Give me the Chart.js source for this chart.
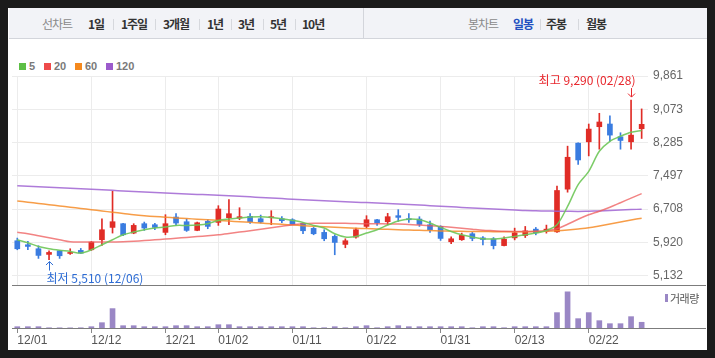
<!DOCTYPE html>
<html><head><meta charset="utf-8">
<script src="https://cdn.jsdelivr.net/npm/chart.js@4.4.1/dist/chart.umd.min.js"></script>
<style>
html,body{margin:0;padding:0;}
body{width:715px;height:358px;background:#1b1b1b;position:relative;overflow:hidden;font-family:"Liberation Sans",Arial,sans-serif;}
#panel{position:absolute;left:8px;top:8px;width:699px;height:342px;background:#fff;}
#hdr{position:absolute;left:9px;top:8px;width:698px;height:30px;background:#f2f3f7;border-bottom:1px solid #d3d5db;}
#hdiv{position:absolute;left:363px;top:8px;width:1px;height:31px;background:#d3d5db;}
.h{position:absolute;top:16px;font-family:"Noto Sans CJK KR",sans-serif;font-size:12px;line-height:16px;letter-spacing:-1px;color:#333;font-weight:700;white-space:nowrap;}
.h.g{color:#8a8a8a;font-weight:400;}
.h.b{color:#2350c0;}
.sep{position:absolute;top:19px;width:1px;height:11px;background:#d6d8dd;}
.lg{position:absolute;top:63px;width:7px;height:7px;}
.lt{position:absolute;top:60px;font-size:11px;line-height:13px;font-weight:700;color:#7a7a7a;}
.line{position:absolute;left:12px;width:694px;height:1px;background:#7c7c7c;}
canvas{position:absolute;left:0;}
#vl{position:absolute;left:665px;top:294px;width:3px;height:8px;background:#9a87c5;}
#vt{position:absolute;left:670px;top:290px;font-family:"Noto Sans CJK KR",sans-serif;font-size:11px;line-height:16px;letter-spacing:-0.5px;color:#555;}
</style>
</head>
<body>
<div id="panel"></div>
<div id="hdr"></div>
<div id="hdiv"></div>
<span class="h g" style="left:42px">선차트</span>
<span class="h" style="left:88px">1일</span><div class="sep" style="left:113px"></div>
<span class="h" style="left:121px">1주일</span><div class="sep" style="left:155px"></div>
<span class="h" style="left:163px">3개월</span><div class="sep" style="left:199px"></div>
<span class="h" style="left:207px">1년</span><div class="sep" style="left:231px"></div>
<span class="h" style="left:238px">3년</span><div class="sep" style="left:263px"></div>
<span class="h" style="left:270px">5년</span><div class="sep" style="left:295px"></div>
<span class="h" style="left:302px">10년</span>
<span class="h g" style="left:468px">봉차트</span>
<span class="h b" style="left:513px">일봉</span><div class="sep" style="left:540px"></div>
<span class="h" style="left:546px">주봉</span><div class="sep" style="left:578px"></div>
<span class="h" style="left:586px">월봉</span>

<div class="lg" style="left:19px;background:#5dbf45"></div><span class="lt" style="left:29px">5</span>
<div class="lg" style="left:44px;background:#ee4a4a"></div><span class="lt" style="left:54px">20</span>
<div class="lg" style="left:75px;background:#f5891d"></div><span class="lt" style="left:85px">60</span>
<div class="lg" style="left:106px;background:#9c5bcc"></div><span class="lt" style="left:116px">120</span>

<canvas id="price" width="715" height="286" style="top:0"></canvas>
<canvas id="vol" width="715" height="72" style="top:286px"></canvas>
<div class="line" style="top:285px"></div>
<div class="line" style="top:328px"></div>
<div id="vl"></div><span id="vt">거래량</span>

<script>
const dates = ['12/01','12/04','12/05','12/06','12/07','12/08','12/11','12/12','12/13','12/14',
 '12/15','12/18','12/19','12/20','12/21','12/22','12/26','12/27','12/28','01/02',
 '01/03','01/04','01/05','01/08','01/09','01/10','01/11','01/12','01/15','01/16',
 '01/17','01/18','01/19','01/22','01/23','01/24','01/25','01/26','01/29','01/30',
 '01/31','02/01','02/02','02/05','02/06','02/07','02/08','02/13','02/14','02/15',
 '02/16','02/19','02/20','02/21','02/22','02/23','02/26','02/27','02/28','02/29'];
const opens = [5956,5861,5766,5632,5719,5655,5727,5742,5980,6272, 6360,6138,6360,6336,6154,6518,6407,6201,6415,6391,
 6502,6494,6534,6478,6502,6478,6454,6368,6249,6154, 6059,5869,6043,6296,6454,6407,6550,6470,6470,6336,
 6296,5932,5980,6122,6024,6001,5841,6024,6080,6231, 6183,6167,7179,8269,8301,8659,8723,8420,8301,8611];
const highs = [6019,5940,5837,5719,5727,5766,5774,5940,6478,7127, 6368,6360,6399,6368,6573,6597,6470,6399,6454,6787,
 6929,6739,6597,6565,6668,6526,6478,6376,6272,6217, 6098,6003,6257,6550,6462,6605,6692,6597,6526,6423,
 6312,6051,6138,6154,6056,6032,6048,6255,6295,6271, 6327,7250,8198,8277,8723,8977,8914,8516,9290,9081];
const lows = [5742,5742,5537,5510,5537,5632,5655,5727,5845,6138, 6075,6122,6201,6217,6098,6320,6177,6193,6241,6320,
 6336,6454,6368,6375,6336,6383,6336,6122,6098,5956, 5624,5790,6019,6265,6320,6336,6415,6391,6296,6154,
 5964,5885,5964,5956,5857,5762,5833,5977,6032,6096, 6136,6152,7107,7767,7967,8126,8317,8126,8126,8380];
const closes = [5766,5821,5608,5679,5600,5679,5663,5924,6217,6407, 6098,6320,6257,6272,6360,6375,6201,6383,6296,6708,
 6597,6526,6407,6399,6526,6431,6344,6193,6122,6003, 5916,5956,6217,6454,6383,6526,6510,6454,6344,6217,
 6011,6003,6083,6011,5985,5841,5993,6144,6191,6144, 6231,7147,7935,7871,8603,8771,8460,8333,8460,8715];
const volumes = [65000,65000,65000,12000,10000,8000,12000,65000,265000,965000, 115000,115000,65000,65000,65000,115000,115000,65000,65000,165000,
 165000,65000,65000,65000,65000,65000,65000,65000,12000,14000, 65000,13000,65000,115000,14000,65000,115000,65000,65000,65000,
 65000,65000,65000,12000,65000,65000,13000,65000,65000,65000, 65000,765000,1800000,465000,765000,365000,215000,215000,565000,285000];
const ma5 = [5980,5908,5820,5766,5730,5702,5664,5742,5861,5980, 6098,6162,6217,6257,6281,6319,6319,6329,6359,6438,
 6471,6495,6518,6526,6509,6478,6438,6390,6319,6257, 6122,6044,6058,6139,6217,6329,6423,6471,6454,6376,
 6272,6177,6098,6044,6003,5996,6020,6058,6098,6139, 6200,6336,6770,7285,7601,8076,8313,8432,8527,8567];
const ma20 = [6158,6122,6074,6027,5980,5932,5925,5925,5925,5927, 5932,5944,5961,5980,5996,6015,6034,6055,6074,6098,
 6129,6162,6193,6229,6264,6300,6336,6359,6371,6373, 6371,6369,6364,6359,6359,6355,6352,6340,6329,6312,
 6295,6276,6253,6229,6205,6193,6181,6177,6177,6181, 6193,6241,6347,6466,6573,6656,6751,6858,6965,7072];
const ma60 = [6898,6870,6839,6810,6780,6751,6720,6692,6661,6632, 6604,6573,6549,6530,6514,6497,6483,6466,6454,6438,
 6423,6407,6393,6376,6359,6345,6329,6314,6300,6288, 6276,6264,6253,6245,6236,6226,6217,6210,6203,6196,
 6188,6184,6179,6177,6174,6172,6170,6170,6170,6174, 6181,6193,6212,6236,6264,6307,6355,6400,6447,6490];
const ma120 = [7261,7249,7237,7224,7212,7200,7188,7175,7163,7150, 7138,7126,7113,7101,7088,7076,7066,7055,7045,7034,
 7024,7010,6996,6983,6969,6955,6942,6930,6917,6904, 6891,6881,6870,6860,6849,6839,6826,6813,6801,6788,
 6775,6761,6746,6732,6720,6708,6696,6685,6673,6667, 6661,6658,6654,6651,6657,6663,6674,6685,6695,6704];
const yTickValues = [5132,5920,6708,7497,8285,9073,9861];
const xTickLabels = ['12/01','12/12','12/21','01/02','01/11','01/22','01/31','02/13','02/22'];

const UP = '#e02c26', DOWN = '#3a7ce0';
const X_MIN = -0.5, X_MAX = 59.6, Y_MIN = 4907, Y_MAX = 9861, VOL_MAX = 2040000;
const xTickIdx = xTickLabels.map(l => dates.indexOf(l));
const candleColors = closes.map((c, i) => c >= opens[i] ? UP : DOWN);
const pts = arr => arr.map((v, i) => ({x: i, y: v}));
const fmt = v => Math.round(v).toLocaleString('en-US');
const GRID = '#ececec';

const hiLo = {
  id: 'hilo',
  afterDatasetsDraw(chart) {
    const {ctx} = chart, x = chart.scales.x, y = chart.scales.y;
    const hi = Math.max(...highs), hiI = highs.indexOf(hi);
    const lo = Math.min(...lows), loI = lows.indexOf(lo);
    ctx.save();
    ctx.lineWidth = 1;
    ctx.font = '12px "Noto Sans CJK KR", sans-serif';
    ctx.textBaseline = 'middle';
    let px = Math.round(x.getPixelForValue(hiI)) + 0.5, py = y.getPixelForValue(hi);
    ctx.strokeStyle = ctx.fillStyle = '#e8262c';
    ctx.beginPath();
    ctx.moveTo(px, py - 12); ctx.lineTo(px, py - 3);
    ctx.moveTo(px - 3.5, py - 6.5); ctx.lineTo(px, py - 3); ctx.lineTo(px + 3.5, py - 6.5);
    ctx.stroke();
    ctx.textAlign = 'right';
    ctx.fillText('최고 ' + fmt(hi) + ' (' + dates[hiI] + ')', px + 4, py - 19.5);
    px = Math.round(x.getPixelForValue(loI)) + 0.5; py = y.getPixelForValue(lo);
    ctx.strokeStyle = ctx.fillStyle = '#2d6cd4';
    ctx.beginPath();
    ctx.moveTo(px, py + 11); ctx.lineTo(px, py + 2);
    ctx.moveTo(px - 3.5, py + 5.5); ctx.lineTo(px, py + 2); ctx.lineTo(px + 3.5, py + 5.5);
    ctx.stroke();
    ctx.textAlign = 'left';
    ctx.fillText('최저 ' + fmt(lo) + ' (' + dates[loI] + ')', px - 3, py + 18.5);
    ctx.restore();
  }
};

const lineDs = (arr, color, order) => ({type: 'line', data: pts(arr), borderColor: color, borderWidth: 1.5,
  pointRadius: 0, tension: 0.3, order: order});

new Chart(document.getElementById('price'), {
  type: 'bar',
  data: {datasets: [
    lineDs(ma5, 'rgba(110,198,88,0.9)', 0),
    lineDs(ma20, 'rgba(238,90,90,0.75)', 0),
    lineDs(ma60, 'rgba(246,140,40,0.85)', 0),
    lineDs(ma120, 'rgba(160,100,210,0.85)', 0),
    {type: 'bar', data: opens.map((o, i) => ({x: i, y: [o, closes[i]]})), backgroundColor: candleColors,
      barThickness: 5, grouped: false, minBarLength: 1, order: 1},
    {type: 'bar', data: lows.map((l, i) => ({x: i, y: [l, highs[i]]})), backgroundColor: candleColors,
      barThickness: 1, grouped: false, order: 2}
  ]},
  options: {
    responsive: false, animation: false, devicePixelRatio: 1,
    layout: {padding: {left: 12, top: 76, right: 0, bottom: 1}, autoPadding: false},
    plugins: {legend: {display: false}, tooltip: {enabled: false}},
    scales: {
      x: {type: 'linear', min: X_MIN, max: X_MAX, offset: false,
        afterBuildTicks: s => { s.ticks = xTickIdx.map(v => ({value: v})); },
        afterFit: s => { s.height = 0; s.paddingLeft = 0; s.paddingRight = 0; },
        ticks: {display: false}, grid: {color: GRID, drawTicks: false, offset: false}, border: {display: false}},
      y: {position: 'right', min: Y_MIN, max: Y_MAX,
        afterBuildTicks: s => { s.ticks = yTickValues.map(v => ({value: v})); },
        afterFit: s => { s.width = 67; s.paddingTop = 0; s.paddingBottom = 0; },
        ticks: {padding: 5, color: '#666', font: {family: 'Liberation Sans', size: 12}, callback: v => fmt(v)},
        grid: {color: GRID, drawTicks: false}, border: {display: false}}
    }
  },
  plugins: [hiLo]
});

new Chart(document.getElementById('vol'), {
  type: 'bar',
  data: {datasets: [{data: pts(volumes), backgroundColor: '#9a87c5', barThickness: 5, grouped: false}]},
  options: {
    responsive: false, animation: false, devicePixelRatio: 1,
    layout: {padding: {left: 12, top: 1, right: 67, bottom: 0}, autoPadding: false},
    plugins: {legend: {display: false}, tooltip: {enabled: false}},
    scales: {
      x: {type: 'linear', min: X_MIN, max: X_MAX, offset: false,
        afterBuildTicks: s => { s.ticks = xTickIdx.map(v => ({value: v})); },
        afterFit: s => { s.height = 30; s.paddingLeft = 0; s.paddingRight = 0; },
        ticks: {align: 'start', padding: 0, autoSkip: false, maxRotation: 0, color: '#555',
          font: {family: 'Liberation Sans', size: 12}, callback: v => dates[v]},
        grid: {drawOnChartArea: false, drawTicks: true, tickLength: 5, color: '#888', offset: false},
        border: {display: false}},
      y: {display: false, min: 0, max: VOL_MAX}
    }
  }
});
</script>
</body></html>
